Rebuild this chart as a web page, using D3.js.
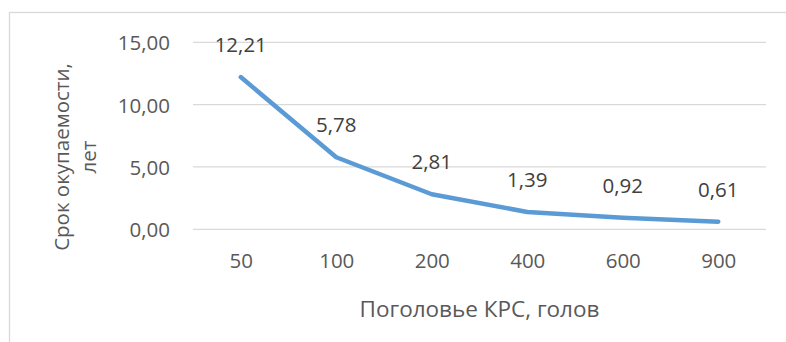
<!DOCTYPE html>
<html>
<head>
<meta charset="utf-8">
<script src="https://cdn.jsdelivr.net/npm/d3@7"></script>
<style>
  html, body { margin: 0; padding: 0; background: #fff; }
  svg { display: block; }
  text { font-family: "Open Sans", "Noto Sans", sans-serif; }
</style>
</head>
<body>
<svg id="chart" width="786" height="342"></svg>
<script>
// Payback period by herd size
const categories = ["50", "100", "200", "400", "600", "900"];
const values = [12.21, 5.78, 2.81, 1.39, 0.92, 0.61];
const yTicks = [0, 5, 10, 15];
const xTitle = "Поголовье КРС, голов";
const yTitleLines = ["Срок окупаемости,", "лет"];

const svg = d3.select("#chart");
const W = 786, H = 342;
const plot = { left: 193, right: 766, top: 42.3, bottom: 229.3 };

const fmt = v => d3.format(".2f")(v).replace(".", ",");

// chart frame
svg.append("rect")
  .attr("x", 9.5).attr("y", 12.5)
  .attr("width", W + 20).attr("height", H + 20)
  .attr("fill", "#fff")
  .attr("stroke", "#d9d9d9").attr("stroke-width", 1.3);

const x = d3.scalePoint().domain(categories)
  .range([plot.left, plot.right]).padding(0.5);
const y = d3.scaleLinear().domain([0, 15])
  .range([plot.bottom, plot.top]);

// horizontal gridlines
svg.append("g").selectAll("line").data(yTicks).join("line")
  .attr("x1", plot.left).attr("x2", plot.right)
  .attr("y1", d => y(d)).attr("y2", d => y(d))
  .attr("stroke", "#d9d9d9").attr("stroke-width", 1.3);

// y axis labels
const yAxis = d3.axisLeft(y).tickValues(yTicks).tickFormat(fmt).tickSize(0).tickPadding(0);
const gy = svg.append("g").attr("transform", `translate(${plot.left - 23},0)`).call(yAxis);
gy.select(".domain").remove();
gy.selectAll("text")
  .attr("font-size", 20.5).attr("fill", "#595959")
  .attr("font-family", "'Open Sans', sans-serif")
  .attr("dy", "0.36em");

// x axis labels
const xAxis = d3.axisBottom(x).tickSize(0).tickPadding(0);
const gx = svg.append("g").attr("transform", `translate(0,${plot.bottom})`).call(xAxis);
gx.select(".domain").remove();
gx.selectAll("text")
  .attr("font-size", 20.5).attr("fill", "#595959")
  .attr("font-family", "'Open Sans', sans-serif")
  .attr("dy", null).attr("y", 39);

// series line
const line = d3.line()
  .x((d, i) => x(categories[i]))
  .y(d => y(d));
svg.append("path")
  .datum(values)
  .attr("d", line)
  .attr("fill", "none")
  .attr("stroke", "#5b9bd5")
  .attr("stroke-width", 4.5)
  .attr("stroke-linejoin", "round")
  .attr("stroke-linecap", "round");

// data labels
svg.append("g").selectAll("text").data(values).join("text")
  .attr("x", (d, i) => x(categories[i]))
  .attr("y", d => y(d) - 25)
  .attr("text-anchor", "middle")
  .attr("font-size", 20.5)
  .attr("fill", "#404040")
  .text(d => fmt(d));

// axis titles
svg.append("text")
  .attr("x", (plot.left + plot.right) / 2)
  .attr("y", 316.5)
  .attr("text-anchor", "middle")
  .attr("font-size", 22.5)
  .attr("fill", "#595959")
  .text(xTitle);

const yt = svg.append("g").attr("transform", "translate(0,157) rotate(-90)");
yt.selectAll("text").data(yTitleLines).join("text")
  .attr("x", 0)
  .attr("y", (d, i) => 69 + i * 27)
  .attr("text-anchor", "middle")
  .attr("font-size", 20.5)
  .attr("fill", "#595959")
  .text(d => d);
</script>
</body>
</html>
